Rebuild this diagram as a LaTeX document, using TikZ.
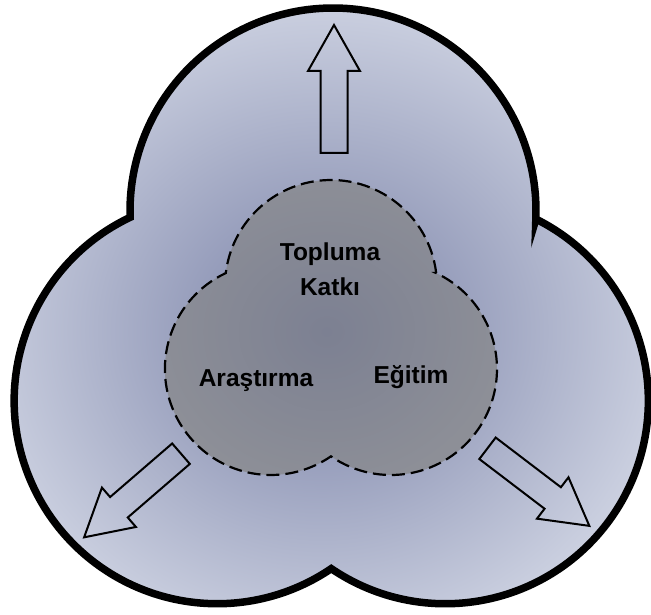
\documentclass[tikz,border=0pt]{standalone}
\usepackage{fontspec}
\setmainfont{Liberation Sans}

\definecolor{glowin}{RGB}{120,128,166}
\definecolor{glowout}{RGB}{200,205,222}
\definecolor{glowedge}{RGB}{232,234,242}
\definecolor{corein}{RGB}{124,128,146}
\definecolor{coreout}{RGB}{141,143,151}

\pgfdeclareradialshading{outerglow}{\pgfpoint{0bp}{-1.5bp}}{color(0bp)=(glowin); color(25bp)=(glowout); color(36bp)=(glowedge); color(50bp)=(glowedge)}
\pgfdeclareradialshading{coreglow}{\pgfpoint{0bp}{0bp}}{color(0bp)=(corein); color(25bp)=(coreout); color(50bp)=(coreout)}

\newcommand\outerlobes{(333,403) ++(-2.4:203) arc[start angle=-2.4, end angle=181.8, radius=203]
    arc[start angle=115.4, end angle=304.2, radius=203]
    arc[start angle=235.8, end angle=423.5, radius=203] -- cycle}
\newcommand\innerlobes{(331,328) ++(7:106) arc[start angle=7, end angle=173, radius=106]
    arc[start angle=115.2, end angle=304.5, radius=106]
    arc[start angle=235.5, end angle=424.8, radius=106] -- cycle}

\tikzset{
    outerlobe/.style={draw=black, line width=7.5pt},
    innerlobe/.style={draw=black, line width=2.2pt, dash pattern=on 13pt off 6pt},
    arrowbox/.style={draw=black, line width=2pt},
    lobetext/.style={font=\bfseries\fontsize{24.5}{35}\selectfont, align=center}
}

\begin{document}
\begin{tikzpicture}[x=1pt, y=1pt]
            \useasboundingbox (0,0) rectangle (651,614);

            % outer trefoil
            \shade[shading=outerglow] \outerlobes;
            \draw[outerlobe] \outerlobes;

            % inner trefoil
            \shade[shading=coreglow] \innerlobes;
            \draw[innerlobe] \innerlobes;

            % block arrows
            \foreach \x/\y/\a in {334/461/90, 181/160.3/220.8, 487.5/165.7/-37.3}
                \draw[arrowbox, shift={(\x,\y)}, rotate=\a] (0,-13.5) -- (82,-13.5) -- (82,-26) -- (128,0) -- (82,26) -- (82,13.5) -- (0,13.5) -- cycle;

            \node[lobetext] (katki) at (330,345) {Topluma\\Katkı};
            \node[lobetext, anchor=base] (arastirma) at (256,227) {Araştırma};
            \node[lobetext, anchor=base] (egitim) at (411,230) {Eğitim};
\end{tikzpicture}
\end{document}
